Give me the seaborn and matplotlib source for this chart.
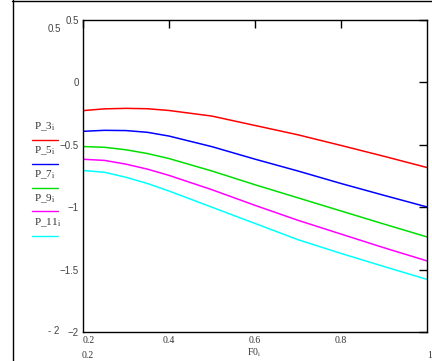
import pandas as pd
import seaborn as sns
import matplotlib.pyplot as plt
from matplotlib.lines import Line2D

# values
F0 = [0.2, 0.25, 0.3, 0.35, 0.4, 0.5, 0.6, 0.7, 0.8, 0.9, 1.0]
P_3 = [-0.226, -0.212, -0.208, -0.211, -0.225, -0.27, -0.345, -0.42, -0.505, -0.592, -0.682]
P_5 = [-0.392, -0.384, -0.386, -0.40, -0.43, -0.515, -0.615, -0.71, -0.81, -0.905, -0.998]
P_7 = [-0.514, -0.52, -0.54, -0.57, -0.61, -0.71, -0.82, -0.925, -1.03, -1.135, -1.238]
P_9 = [-0.616, -0.625, -0.655, -0.695, -0.745, -0.86, -0.985, -1.105, -1.215, -1.325, -1.43]
P_11 = [-0.706, -0.72, -0.76, -0.81, -0.87, -1.0, -1.13, -1.26, -1.37, -1.475, -1.578]

names = ['P_3', 'P_5', 'P_7', 'P_9', 'P_11']
colors = ['#ff0000', '#0000ff', '#00e000', '#ff00ff', '#00ffff']
yticks = [-2, -1.5, -1, -0.5, 0, 0.5]
ylabels = ['\u22122', '\u22121.5', '\u22121', '\u22120.5', '0', '0.5']

df = pd.concat([pd.DataFrame({'F0': F0, 'P': v, 'series': n})
                for n, v in zip(names, [P_3, P_5, P_7, P_9, P_11])])

sns.set_style('white')
plt.rcParams['font.family'] = ['Liberation Serif', 'DejaVu Serif']
plt.rcParams['mathtext.fontset'] = 'stix'

W, H = 432, 361
fig = plt.figure(figsize=(W / 100, H / 100), dpi=100)


def px(x, y):
    return x / W, 1 - y / H


ax = fig.add_axes([83 / W, 1 - 332 / H, (427 - 83) / W, (332 - 20) / H])
sns.lineplot(data=df, x='F0', y='P', hue='series', palette=colors,
             linewidth=1.1, legend=False, ax=ax)

ax.set_xlim(0.2, 1.0)
ax.set_ylim(-2, 0.5)
ax.set_xlabel('')
ax.set_ylabel('')
for s in ax.spines.values():
    s.set_color('black')
    s.set_linewidth(1.0)

ax.set_xticks([0.2, 0.4, 0.6, 0.8])
ax.set_xticklabels(['0.2', '0.4', '0.6', '0.8'], fontsize=7, color='#333333')
ax.get_xticklabels()[0].set_horizontalalignment('left')
ax.set_yticks(yticks)
ax.set_yticklabels(ylabels, fontsize=7, color='#444444', family='Liberation Sans')
ax.tick_params(direction='in', length=5.8, width=1.0, color='black',
               top=True, right=True, labeltop=False, labelright=False, pad=3.2)
ax.tick_params(axis='x', pad=3)

# extra limit labels
fig.text(*px(54, 29), '0.5', fontsize=7, color='#444444', family='Liberation Sans',
         ha='center', va='center')
fig.text(*px(54, 331), '- 2', fontsize=7, color='#444444', family='Liberation Sans',
         ha='center', va='center')
fig.text(*px(88, 356), '0.2', fontsize=7, color='#333333', ha='center', va='center')
fig.text(*px(430, 355), '1', fontsize=7, color='#333333', ha='center', va='center')
fig.text(*px(254, 353), 'F0$_\\mathrm{i}$', fontsize=7, color='#333333',
         ha='center', va='center')

# legend on the left
for k, (n, c) in enumerate(zip(names, colors)):
    ty = 127 + 24 * k
    fig.text(*px(34, ty), n + '$_\\mathrm{i}$', fontsize=8, color='#333333',
             ha='left', va='center')
    x0, y0 = px(32, ty + 12.5)
    x1, _ = px(58, ty + 12.5)
    fig.add_artist(Line2D([x0, x1], [y0, y0], color=c, lw=1.0))

# outer frame lines
fig.add_artist(Line2D([12.5 / W, 12.5 / W], [0, 1], color='black', lw=1.0))
fig.add_artist(Line2D([12 / W, 1], [1 - 0.7 / H, 1 - 0.7 / H], color='black', lw=1.0))

fig.savefig('out.png', dpi=100)
